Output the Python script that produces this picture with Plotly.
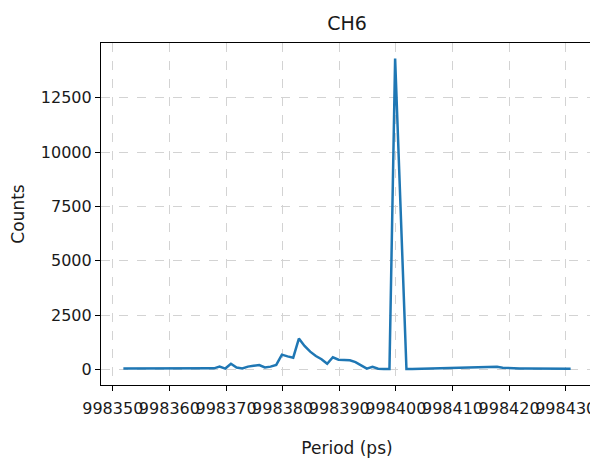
import plotly.graph_objects as go

period = [
    998351.87, 998352.87, 998353.87, 998354.87, 998355.87, 998356.87, 998357.87, 998358.87,
    998359.87, 998360.87, 998361.87, 998362.87, 998363.87, 998364.87, 998365.87, 998366.87,
    998367.87, 998368.87, 998369.87, 998370.87, 998371.87, 998372.87, 998373.87, 998374.87,
    998375.87, 998376.87, 998377.87, 998378.87, 998379.87, 998380.87, 998381.87, 998382.87,
    998383.87, 998384.87, 998385.87, 998386.87, 998387.87, 998388.87, 998389.87, 998390.87,
    998391.87, 998392.87, 998393.87, 998394.87, 998395.87, 998396.87, 998397.87, 998398.87,
    998399.87, 998401.87, 998402.87, 998403.87, 998404.87, 998405.87, 998406.87, 998407.87,
    998408.87, 998409.87, 998410.87, 998411.87, 998412.87, 998413.87, 998414.87, 998415.87,
    998416.87, 998417.87, 998418.87, 998419.87, 998420.87, 998421.87, 998422.87, 998423.87,
    998424.87, 998425.87, 998426.87, 998427.87, 998428.87, 998429.87, 998430.87,
]
counts = [
    40, 40, 40, 40, 40, 40, 40, 40,
    40, 40, 40, 40, 40, 40, 40, 45,
    50, 130, 40, 260, 90, 50, 130, 170,
    200, 90, 130, 210, 680, 600, 540, 1420,
    1080, 820, 620, 470, 260, 560, 450, 440,
    420, 340, 180, 40, 120, 30, 25, 25,
    14300, 20, 25, 30, 40, 50, 50, 55,
    60, 70, 70, 70, 70, 75, 80, 90,
    110, 120, 80, 60, 50, 40, 40, 40,
    40, 40, 40, 40, 40, 40, 35,
]
x_ticks = [998350, 998360, 998370, 998380, 998390, 998400, 998410, 998420, 998430]
y_ticks = [0, 2500, 5000, 7500, 10000, 12500]

font_family = "DejaVu Sans"
text_color = "#1a1a1a"

fig = go.Figure()
fig.add_trace(go.Scatter(
    x=period, y=counts, mode="lines",
    line=dict(color="#1f77b4", width=2.5),
    showlegend=False,
))

axis_common = dict(
    showline=True, linecolor="black", linewidth=1.2, mirror=True,
    ticks="outside", ticklen=5, tickwidth=1.2, tickcolor="black",
    showgrid=True, gridcolor="#d3d3d3", griddash="dash", gridwidth=1,
    zeroline=False, automargin=False, tickangle=0,
    tickfont=dict(family=font_family, size=16, color=text_color),
)

xmin, xmax = min(period), max(period)
ymax = max(counts)
fig.update_xaxes(
    range=[xmin - 0.05 * (xmax - xmin), xmax + 0.05 * (xmax - xmin)],
    tickvals=x_ticks, ticktext=[str(v) for v in x_ticks],
    ticklabelstandoff=4,
    title=dict(text="Period (ps)", font=dict(family=font_family, size=17, color=text_color), standoff=24),
    **axis_common,
)
fig.update_yaxes(
    range=[-0.05 * ymax, 1.05 * ymax],
    tickvals=y_ticks, ticktext=[str(v) for v in y_ticks],
    title=dict(text="Counts", font=dict(family=font_family, size=17, color=text_color), standoff=12),
    **axis_common,
)

fig.update_layout(
    width=590, height=455,
    margin=dict(l=93, r=5, t=35, b=78),
    paper_bgcolor="white", plot_bgcolor="white",
    title=dict(text="CH6", x=0.5, xref="paper", xanchor="center",
               y=1 - 15 / 455, yref="container", yanchor="middle",
               font=dict(family=font_family, size=19, color=text_color)),
)

fig.write_html("out.html")
